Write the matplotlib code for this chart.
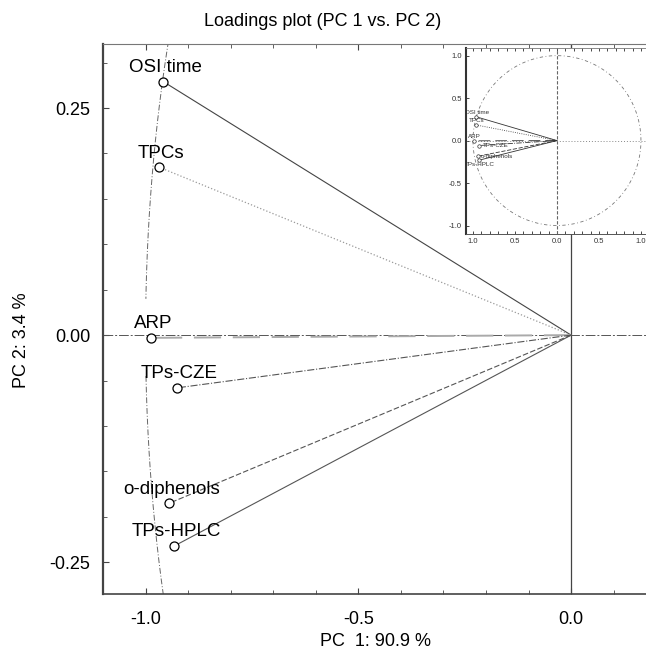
import numpy as np
import matplotlib
matplotlib.use("Agg")
import matplotlib.pyplot as plt

plt.rcParams['font.family'] = ['Liberation Sans', 'DejaVu Sans']

# loadings
names = ['OSI time', 'TPCs', 'ARP', 'TPs-CZE', 'o-diphenols', 'TPs-HPLC']
pc1 = [-0.958, -0.969, -0.988, -0.925, -0.944, -0.932]
pc2 = [0.279, 0.185, -0.003, -0.058, -0.185, -0.232]

line_styles = ['-', ':', (0, (14, 6)), '-.', (0, (5, 2)), '-']
line_colors = ['#444444', '#999999', '#aaaaaa', '#555555', '#555555', '#555555']
line_widths = [0.8, 0.9, 1.4, 0.8, 0.8, 0.8]

xticks = [-1.0, -0.5, 0.0]
yticks = [-0.25, 0.0, 0.25]
yticklabels = ['-0.25', '0.00', '0.25']
inset_ticks = [-1.0, -0.5, 0.0, 0.5, 1.0]
inset_xlabels = ['1.0', '0.5', '0.0', '0.5', '1.0']
inset_ylabels = ['-1.0', '-0.5', '0.0', '0.5', '1.0']

# where the tiny inset labels sit so they do not pile up
inset_place = ['above', 'above', 'above', 'right', 'right', 'below']

W, H = 646, 654
fig = plt.figure(figsize=(W / 100, H / 100), dpi=100)

# main axes, runs off the right edge like the original
ax = fig.add_axes([103 / W, (H - 594) / H, (W - 103) / W, (594 - 44) / H])
ax.set_xlim(-1.099, 0.176)
ax.set_ylim(-0.285, 0.3205)

# unit circle, with the small gap next to ARP
t = np.linspace(-np.pi + 0.045, np.pi - 0.04, 600)
ax.plot(np.cos(t), np.sin(t), ls=(0, (6, 2, 1, 2)), color='#666666', lw=0.7)

ax.axvline(0, color='#444444', lw=0.9)
ax.axhline(0, color='#555555', lw=0.7, ls=(0, (10, 2, 2, 2)))

for i in range(len(names)):
    ax.plot([0, pc1[i]], [0, pc2[i]], ls=line_styles[i], color=line_colors[i],
            lw=line_widths[i])
    ax.plot(pc1[i], pc2[i], 'o', mfc='white', mec='black', ms=6.5, mew=0.9)
    ax.annotate(names[i], (pc1[i], pc2[i]), xytext=(1.5, 4), textcoords='offset points',
                ha='center', va='bottom', fontsize=13.5)

ax.set_xticks(xticks)
ax.set_xticklabels(['-1.0', '-0.5', '0.0'])
ax.set_yticks(yticks)
ax.set_yticklabels(yticklabels)
ax.set_xticks(np.arange(-1.1, 0.2, 0.1), minor=True)
ax.set_yticks(np.arange(-0.25, 0.33, 0.05), minor=True)
ax.tick_params(axis='both', which='both', direction='in', top=True, right=False,
               labelsize=13, color='#444444')
ax.tick_params(which='major', length=4)
ax.tick_params(which='minor', length=3)
ax.tick_params(axis='x', pad=12)
ax.tick_params(axis='y', pad=9)
ax.spines['right'].set_visible(False)
ax.spines['left'].set_linewidth(1.6)
ax.spines['left'].set_color('#444444')
ax.spines['bottom'].set_linewidth(1.2)
ax.spines['bottom'].set_color('#444444')
ax.spines['top'].set_linewidth(0.8)
ax.spines['top'].set_color('#777777')

fig.text(0.5, 1 - 22 / H, 'Loadings plot (PC 1 vs. PC 2)', ha='center', va='center',
         fontsize=13)
fig.text(375 / W, 1 - 641 / H, 'PC  1: 90.9 %', ha='center', va='center', fontsize=13)
fig.text(22 / W, 1 - 340 / H, 'PC 2: 3.4 %', ha='center', va='center', fontsize=13,
         rotation=90)

# small inset with the full circle
axi = fig.add_axes([466 / W, (H - 234) / H, (W - 466) / W, (234 - 48) / H])
axi.set_xlim(-1.083, 1.06)
axi.set_ylim(-1.1, 1.09)
tt = np.linspace(0, 2 * np.pi, 400)
axi.plot(np.cos(tt), np.sin(tt), ls=(0, (4, 3, 1, 3)), color='#777777', lw=0.6)
axi.axvline(0, color='#666666', lw=0.8, ls=(0, (3, 1.5)))
axi.axhline(0, color='#888888', lw=0.7, ls=(0, (1, 2)))
for i in range(len(names)):
    axi.plot([0, pc1[i]], [0, pc2[i]], ls=line_styles[i], color='#333333', lw=0.6)
    axi.plot(pc1[i], pc2[i], 'o', mfc='white', mec='#333333', ms=2.5, mew=0.5)
    if inset_place[i] == 'above':
        off, ha, va = (0.5, 1.5), 'center', 'bottom'
    elif inset_place[i] == 'right':
        off, ha, va = (2.5, 0), 'left', 'center'
    else:
        off, ha, va = (0.5, -1.5), 'center', 'top'
    axi.annotate(names[i], (pc1[i], pc2[i]), xytext=off, textcoords='offset points',
                 ha=ha, va=va, fontsize=4.5, color='#333333')
axi.set_xticks(inset_ticks)
axi.set_xticklabels(inset_xlabels)
axi.set_yticks(inset_ticks)
axi.set_yticklabels(inset_ylabels)
axi.set_xticks(np.arange(-1.0, 1.01, 0.1), minor=True)
axi.tick_params(axis='both', which='both', direction='in', top=True, right=False,
                labelsize=5.5, labelcolor='#333333', length=2, width=0.5, pad=3)
axi.spines['right'].set_visible(False)
axi.spines['left'].set_linewidth(1.5)
axi.spines['left'].set_color('#333333')
axi.spines['top'].set_linewidth(0.6)
axi.spines['top'].set_color('#777777')
axi.spines['bottom'].set_linewidth(0.7)
axi.spines['bottom'].set_color('#555555')

fig.savefig('out.png', dpi=100)
